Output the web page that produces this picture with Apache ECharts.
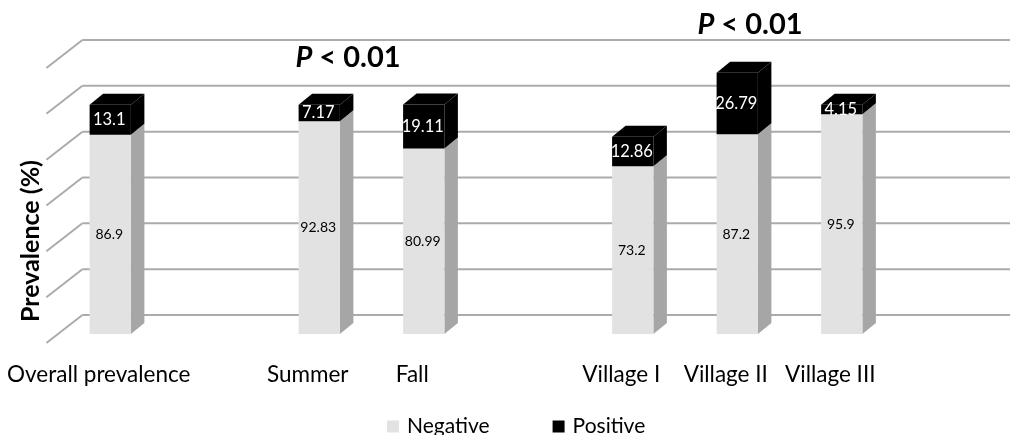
<!DOCTYPE html>
<html>
<head>
<meta charset="utf-8">
<script src="https://cdn.jsdelivr.net/npm/echarts@6/dist/echarts.min.js"></script>
<style>
html,body{margin:0;padding:0;background:#fff;}
#chart{width:1010px;height:435px;}
</style>
</head>
<body>
<div id="chart"></div>
<script>
// ---- data ----
const categories = ['Overall prevalence', ' ', 'Summer', 'Fall', '  ', 'Village I', 'Village II', 'Village III'];
const negative = [86.9, null, 92.83, 80.99, null, 73.2, 87.2, 95.9];
const positive = [13.1, null, 7.17, 19.11, null, 12.86, 26.79, 4.15];
const yTicks = [0, 20, 40, 60, 80, 100, 120];
const seriesNames = ['Negative', 'Positive'];
const annotations = ['P < 0.01', 'P < 0.01'];
const yTitle = 'Prevalence (%)';

const FONT = 'Lato, "Open Sans", sans-serif';
const DX = 13.5, DY = 11;          // bar depth offset
const WDX = 24.4, WDY = 19;        // back wall offset from bar front plane
const FDX = 11.6, FDY = 9;         // floor front edge offset from bar front plane

function boxItem(colors, labelColor, labelSize) {
  return function (params, api) {
    const i = api.value(0), v = api.value(1), base = api.value(2);
    const c0 = api.coord([i, base]);
    const c1 = api.coord([i, base + v]);
    const bw = api.size([1, 0])[0] * 0.395;
    const x0 = c0[0] - bw / 2, x1 = x0 + bw, yb = c0[1], yt = c1[1];
    return {
      type: 'group',
      children: [
        { type: 'polygon', shape: { points: [[x1, yb], [x1 + DX, yb - DY], [x1 + DX, yt - DY], [x1, yt]] }, style: { fill: colors[1] } },
        { type: 'polygon', shape: { points: [[x0, yt], [x0 + DX, yt - DY], [x1 + DX, yt - DY], [x1, yt]] }, style: { fill: colors[2] } },
        { type: 'rect', shape: { x: x0, y: yt, width: bw, height: yb - yt }, style: { fill: colors[0] } },
        { type: 'text', style: { text: String(v), x: (x0 + x1) / 2 - 1, y: (yt + yb) / 2, align: 'center', verticalAlign: 'middle', fill: labelColor, font: labelSize + 'px ' + FONT } }
      ]
    };
  };
}

const negData = [], posData = [];
categories.forEach((c, i) => {
  if (negative[i] != null) negData.push([i, negative[i], 0]);
  if (positive[i] != null) posData.push([i, positive[i], negative[i] || 0]);
});

const chart = echarts.init(document.getElementById('chart'));
chart.setOption({
  animation: false,
  backgroundColor: '#fff',
  grid: { left: 58, right: 116, top: 59, bottom: 101 },
  xAxis: {
    type: 'category', data: categories,
    axisLine: { show: false }, axisTick: { show: false },
    axisLabel: { interval: 0, margin: 29, fontSize: 22.5, color: '#000', fontFamily: FONT, padding: [0, 23, 0, 0] }
  },
  yAxis: {
    type: 'value', min: 0, max: 120, interval: 20,
    axisLine: { show: false }, axisTick: { show: false }, axisLabel: { show: false }, splitLine: { show: false }
  },
  legend: {
    data: seriesNames, left: 382, top: 411, icon: 'rect', itemWidth: 12, itemHeight: 12, itemGap: 63,
    textStyle: { fontSize: 21, color: '#000', fontFamily: FONT, padding: [0, 0, 0, 3] }
  },
  graphic: [
    { type: 'text', x: 31, y: 241, rotation: Math.PI / 2, style: { text: yTitle, align: 'center', verticalAlign: 'middle', font: 'bold 25px ' + FONT, fill: '#000' } },
    { type: 'text', x: 348, y: 58, style: { text: '{i|P}' + annotations[0].slice(1), rich: { i: { fontStyle: 'italic', fontWeight: 'bold', fontSize: 29, fontFamily: FONT } }, align: 'center', verticalAlign: 'middle', font: 'bold 29px ' + FONT, fill: '#000' } },
    { type: 'text', x: 750, y: 25, style: { text: '{i|P}' + annotations[1].slice(1), rich: { i: { fontStyle: 'italic', fontWeight: 'bold', fontSize: 29, fontFamily: FONT } }, align: 'center', verticalAlign: 'middle', font: 'bold 29px ' + FONT, fill: '#000' } }
  ],
  series: [
    {
      name: 'wall', type: 'custom', z: 1, silent: true,
      data: yTicks.map(v => [0, v]),
      renderItem: function (params, api) {
        const cs = params.coordSys;
        const c = api.coord([0, api.value(1)]);
        const yb = c[1] - WDY, xb = cs.x + WDX;
        return {
          type: 'group', children: [
            { type: 'line', shape: { x1: xb, y1: yb, x2: api.getWidth(), y2: yb }, style: { stroke: '#ababab', lineWidth: 2 } },
            { type: 'line', shape: { x1: xb, y1: yb, x2: cs.x - FDX, y2: c[1] + FDY }, style: { stroke: '#ababab', lineWidth: 2 } }
          ]
        };
      }
    },
    {
      name: seriesNames[0], type: 'custom', z: 3, itemStyle: { color: '#e2e2e2' },
      data: negData, renderItem: boxItem(['#e2e2e2', '#a6a6a6', '#eeeeee'], '#000', 14)
    },
    {
      name: seriesNames[1], type: 'custom', z: 4, itemStyle: { color: '#000' },
      data: posData, renderItem: boxItem(['#000', '#000', '#000'], '#fff', 16.5)
    }
  ]
});
</script>
</body>
</html>
